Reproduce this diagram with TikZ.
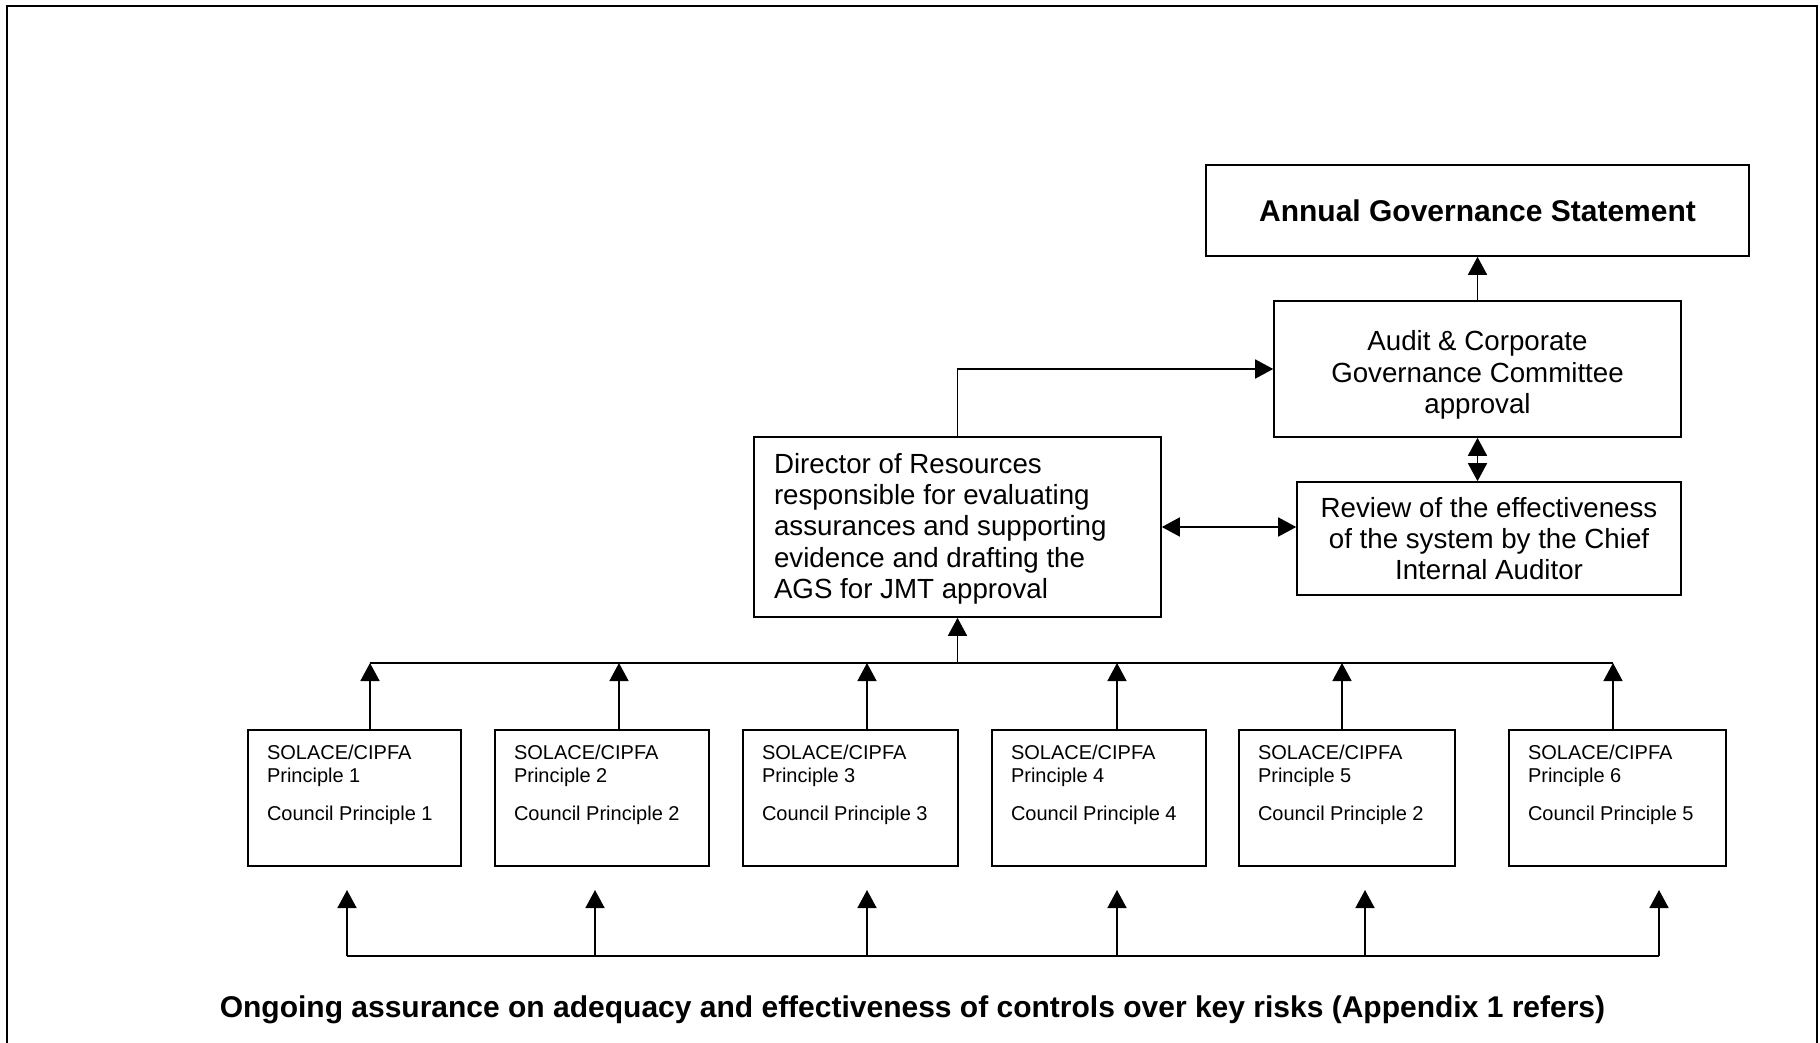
\documentclass[tikz,border=0pt]{standalone}
\usepackage{fontspec}
\setmainfont{Liberation Sans}
\usetikzlibrary{arrows.meta}
\begin{document}
\begin{tikzpicture}[x=1pt,y=-1pt,
  box/.style={draw, line width=1.6pt, rectangle, inner sep=0pt},
  conn/.style={line width=1.6pt},
  arr/.style={conn, -{Triangle[length=18pt,width=19pt]}},
  darr/.style={conn, {Triangle[length=18pt,width=19pt]}-{Triangle[length=18pt,width=19pt]}},
  big/.style={font=\fontsize{27.7}{31.3}\selectfont},
  ttl/.style={font=\fontsize{30}{34}\selectfont\bfseries},
]
\useasboundingbox (0,0) rectangle (1820,1043);
% page frame
\coordinate (fbl) at (7,1043);
\coordinate (ftl) at (7,6);
\coordinate (ftr) at (1817,6);
\coordinate (fbr) at (1817,1043);
\draw[line width=2pt] (fbl) -- (ftl) -- (ftr) -- (fbr);

% upper boxes
\node[box, ttl, minimum width=543pt, minimum height=91pt] (ags) at (1477.5,210.5) {Annual Governance Statement};
\node[box, big, minimum width=407pt, minimum height=136pt] (aud) at (1477.5,369)
  {\raisebox{-7pt}[\height][\depth]{\begin{tabular}{@{}c@{}}Audit \& Corporate\\Governance Committee\\approval\end{tabular}}};
\node[box, big, minimum width=407pt, minimum height=180pt, inner xsep=20pt] (dir) at (957.5,527)
  {\raisebox{-2.5pt}[\height][\depth]{\begin{tabular}{@{}p{367pt}@{}}Director of Resources\\responsible for evaluating\\assurances and supporting\\evidence and drafting the\\AGS for JMT approval\end{tabular}}};
\node[box, big, align=center, minimum width=384pt, minimum height=113pt] (rev) at (1489,538.5) {Review of the effectiveness\\of the system by the Chief\\Internal Auditor};

% principle boxes
\newcommand{\prbox}[5]{%
  \node[box, inner xsep=19pt, inner ysep=0pt] (#1) at (#2,798)
  {\parbox[c][136pt][t]{\dimexpr #3pt-38pt\relax}{\fontsize{20}{23}\selectfont
   \rule{0pt}{29pt}SOLACE/CIPFA\\Principle #4\\[15pt]Council Principle #5}};}
\prbox{b1}{354.5}{213}{1}{1}
\prbox{b2}{602}{214}{2}{2}
\prbox{b3}{850.5}{215}{3}{3}
\prbox{b4}{1099}{214}{4}{4}
\prbox{b5}{1347}{216}{5}{2}
\prbox{b6}{1617.5}{217}{6}{5}

% upper connectors
\draw[arr] (aud.north) -- (ags.south);
\draw[darr] (aud.south) -- (aud.south |- rev.north);
\draw[darr] (dir.east) -- (rev.west |- dir.east);
\draw[arr] (dir.north) |- (aud.west);

% top bus
\coordinate (t1) at (370,663);
\coordinate (t2) at (619,663);
\coordinate (t3) at (867,663);
\coordinate (t4) at (1117,663);
\coordinate (t5) at (1342,663);
\coordinate (t6) at (1613,663);
\coordinate (tm) at (957.5,663);
\draw[conn] (t1) -- (t6);
\draw[arr] (tm) -- (dir.south);
\draw[arr] (t1 |- b1.north) -- (t1);
\draw[arr] (t2 |- b2.north) -- (t2);
\draw[arr] (t3 |- b3.north) -- (t3);
\draw[arr] (t4 |- b4.north) -- (t4);
\draw[arr] (t5 |- b5.north) -- (t5);
\draw[arr] (t6 |- b6.north) -- (t6);

% bottom bus
\coordinate (u1) at (347,956);
\coordinate (u2) at (595,956);
\coordinate (u3) at (867,956);
\coordinate (u4) at (1117,956);
\coordinate (u5) at (1365,956);
\coordinate (u6) at (1659,956);
\coordinate (v1) at (347,890);
\coordinate (v2) at (595,890);
\coordinate (v3) at (867,890);
\coordinate (v4) at (1117,890);
\coordinate (v5) at (1365,890);
\coordinate (v6) at (1659,890);
\draw[conn] (u1) -- (u6);
\draw[arr] (u1) -- (v1);
\draw[arr] (u2) -- (v2);
\draw[arr] (u3) -- (v3);
\draw[arr] (u4) -- (v4);
\draw[arr] (u5) -- (v5);
\draw[arr] (u6) -- (v6);

\node[ttl, inner sep=0pt] (foot) at (912.5,1009.5) {Ongoing assurance on adequacy and effectiveness of controls over key risks (Appendix 1 refers)};
\end{tikzpicture}
\end{document}
